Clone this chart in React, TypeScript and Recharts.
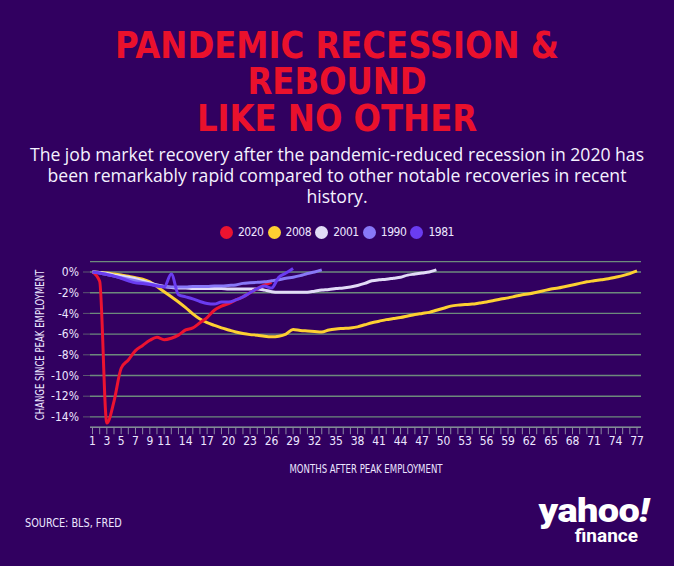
import { CartesianGrid, Line, LineChart, XAxis, YAxis } from "recharts";

// months after peak employment (x categories)
const months = [
  1, 2, 3, 4, 5, 6, 7, 8, 9, 10, 11, 12, 13, 14, 15, 16, 17, 18, 19, 20, 21, 22,
  23, 24, 25, 26, 27, 28, 29, 30, 31, 32, 33, 34, 35, 36, 37, 38, 39, 40, 41, 42,
  43, 44, 45, 46, 47, 48, 49, 50, 51, 52, 53, 54, 55, 56, 57, 58, 59, 60, 61, 62,
  63, 64, 65, 66, 67, 68, 69, 70, 71, 72, 73, 74, 75, 76, 77,
];
const xTickLabels = [
  1, 3, 5, 7, 9, 11, 14, 17, 20, 23, 26, 29, 32, 35, 38, 41, 44, 47, 50, 53, 56,
  59, 62, 65, 68, 71, 74, 77,
];
const yTicks = [0, -2, -4, -6, -8, -10, -12, -14];

// % change since peak employment
const y2020 = [
  0, -0.9, -14.6, -12.5, -9.3, -8.5, -7.6, -7.1, -6.6, -6.3, -6.55, -6.4, -6.1,
  -5.6, -5.4, -4.9, -4.4, -3.7, -3.3, -3.05, -2.7, -2.4, -2.0, -1.6, -1.25, -1.0,
];
const y2008 = [
  0, -0.05, -0.1, -0.2, -0.3, -0.4, -0.55, -0.7, -0.95, -1.4, -1.9, -2.4, -2.9,
  -3.45, -4.05, -4.55, -4.9, -5.15, -5.4, -5.6, -5.8, -5.95, -6.05, -6.1, -6.2,
  -6.25, -6.2, -6.0, -5.55, -5.65, -5.7, -5.75, -5.8, -5.6, -5.5, -5.45, -5.4,
  -5.3, -5.1, -4.9, -4.75, -4.6, -4.5, -4.4, -4.25, -4.1, -4.0, -3.9, -3.7, -3.5,
  -3.3, -3.2, -3.15, -3.1, -3.0, -2.9, -2.75, -2.6, -2.5, -2.35, -2.2, -2.1,
  -1.95, -1.8, -1.65, -1.55, -1.4, -1.25, -1.1, -0.95, -0.85, -0.75, -0.65, -0.5,
  -0.35, -0.15, 0.1,
];
const y2001 = [
  0, -0.05, -0.15, -0.3, -0.4, -0.5, -0.65, -0.85, -1.05, -1.25, -1.4, -1.5,
  -1.55, -1.55, -1.6, -1.6, -1.6, -1.6, -1.6, -1.65, -1.65, -1.65, -1.65, -1.65,
  -1.75, -1.9, -1.95, -1.95, -1.95, -1.95, -1.95, -1.85, -1.75, -1.7, -1.6,
  -1.55, -1.45, -1.3, -1.1, -0.85, -0.75, -0.7, -0.6, -0.5, -0.3, -0.2, -0.1, 0.0,
  0.2,
];
const y1990 = [
  0, -0.1, -0.25, -0.4, -0.55, -0.7, -0.85, -1.0, -1.15, -1.3, -1.4, -1.45,
  -1.45, -1.45, -1.4, -1.4, -1.4, -1.35, -1.35, -1.3, -1.25, -1.1, -1.05, -1.0,
  -0.95, -0.85, -0.75, -0.6, -0.5, -0.35, -0.15, 0.0, 0.2,
];
const y1981 = [
  0, -0.1, -0.25, -0.4, -0.6, -0.85, -1.05, -1.1, -1.2, -1.35, -1.45, -0.2,
  -2.2, -2.4, -2.6, -2.85, -3.05, -3.1, -2.9, -2.9, -2.7, -2.4, -2.0, -1.6,
  -1.35, -1.55, -0.5, -0.1, 0.35,
];

const legendItems = [
  { name: "2020", color: "#ec1330" },
  { name: "2008", color: "#fdd032" },
  { name: "2001", color: "#e2dcf7" },
  { name: "1990", color: "#8878f7" },
  { name: "1981", color: "#6a3cf0" },
];

const data = months.map((m, i) => ({
  month: m,
  s2020: y2020[i],
  s2008: y2008[i],
  s2001: y2001[i],
  s1990: y1990[i],
  s1981: y1981[i],
}));

const BG = "#310060";
const NARROW = '"DejaVu Sans Condensed", "DejaVu Sans", sans-serif';
const LIGHT = "#ece6ff";

// shared style for the small condensed captions
const caption = {
  position: "absolute" as const,
  whiteSpace: "nowrap" as const,
  fontFamily: NARROW,
  fontSize: 12.5,
  color: LIGHT,
  lineHeight: "14px",
};

export default function App() {
  return (
    <div
      style={{
        position: "absolute",
        left: 0,
        top: 0,
        width: 674,
        height: 566,
        background: BG,
        overflow: "hidden",
      }}
    >
      {/* title */}
      <div
        style={{
          position: "absolute",
          top: 26.5,
          left: 0,
          width: 674,
          textAlign: "center",
          color: "#ea112c",
          fontFamily: NARROW,
          fontWeight: 700,
          fontSize: 38,
          lineHeight: "36.5px",
          transform: "scaleX(0.945)",
        }}
      >
        PANDEMIC RECESSION &amp;
        <br />
        REBOUND
        <br />
        LIKE NO OTHER
      </div>

      {/* subtitle */}
      <div
        style={{
          position: "absolute",
          top: 144,
          left: 0,
          width: 674,
          textAlign: "center",
          color: "#f5f2ff",
          fontFamily: '"Open Sans", sans-serif',
          fontSize: 17.6,
          lineHeight: "21px",
        }}
      >
        The job market recovery after the pandemic-reduced recession in 2020 has
        <br />
        been remarkably rapid compared to other notable recoveries in recent
        <br />
        history.
      </div>

      {/* legend */}
      {legendItems.map((it, i) => (
        <div
          key={it.name}
          style={{
            position: "absolute",
            left: 220 + i * 47.6,
            top: 224,
            display: "flex",
            alignItems: "center",
            fontFamily: NARROW,
            fontSize: 12,
            letterSpacing: -0.5,
            color: LIGHT,
            lineHeight: "16px",
          }}
        >
          <span
            style={{
              width: 13,
              height: 13,
              borderRadius: "50%",
              background: it.color,
              marginRight: 5,
              display: "inline-block",
            }}
          />
          {it.name}
        </div>
      ))}

      <div style={{ position: "absolute", left: 0, top: 0 }}>
        <LineChart
          width={674}
          height={566}
          data={data}
          margin={{ top: 261.65, right: 33, bottom: 108.75, left: 0 }}
        >
          <CartesianGrid vertical={false} stroke="#6d8a7c" strokeWidth={1.4} />
          <XAxis
            dataKey="month"
            type="number"
            domain={[1, 77]}
            ticks={months}
            interval={0}
            padding={{ left: 2.5, right: 4 }}
            height={30}
            tickFormatter={(v: number) =>
              xTickLabels.includes(v) ? String(v) : ""
            }
            stroke="#8a88a0"
            tickSize={7}
            tick={{ fill: LIGHT, fontSize: 12, fontFamily: NARROW }}
          />
          <YAxis
            type="number"
            domain={[-15, 1]}
            ticks={yTicks}
            interval={0}
            width={90}
            axisLine={false}
            tickLine={{ stroke: "#5c5870" }}
            tickSize={7}
            tickMargin={4}
            tickFormatter={(v: number) => `${v}%`}
            tick={{ fill: LIGHT, fontSize: 12, fontFamily: NARROW }}
          />
          <Line
            dataKey="s2008"
            stroke="#fdd032"
            strokeWidth={3}
            type="monotone"
            dot={false}
            activeDot={false}
            isAnimationActive={false}
          />
          <Line
            dataKey="s2001"
            stroke="#e2dcf7"
            strokeWidth={3}
            type="monotone"
            dot={false}
            activeDot={false}
            isAnimationActive={false}
          />
          <Line
            dataKey="s2020"
            stroke="#ec1330"
            strokeWidth={3}
            type="monotone"
            dot={false}
            activeDot={false}
            isAnimationActive={false}
          />
          <Line
            dataKey="s1990"
            stroke="#8878f7"
            strokeWidth={3}
            type="monotone"
            dot={false}
            activeDot={false}
            isAnimationActive={false}
          />
          <Line
            dataKey="s1981"
            stroke="#6a3cf0"
            strokeWidth={3}
            type="monotone"
            dot={false}
            activeDot={false}
            isAnimationActive={false}
          />
        </LineChart>
      </div>

      {/* axis titles */}
      <div
        style={{
          ...caption,
          left: 40,
          top: 345,
          transform: "translate(-50%, -50%) rotate(-90deg) scaleX(0.76)",
        }}
      >
        CHANGE SINCE PEAK EMPLOYMENT
      </div>
      <div
        style={{
          ...caption,
          left: 365.5,
          top: 469,
          transform: "translate(-50%, -50%) scaleX(0.76)",
        }}
      >
        MONTHS AFTER PEAK EMPLOYMENT
      </div>

      {/* footer */}
      <div
        style={{
          ...caption,
          left: 25,
          top: 516,
          fontSize: 12,
          transformOrigin: "left center",
          transform: "scaleX(0.9)",
        }}
      >
        SOURCE: BLS, FRED
      </div>
      <div
        style={{
          position: "absolute",
          right: 25,
          top: 494,
          textAlign: "right",
          color: "#ffffff",
          fontFamily: "Roboto, sans-serif",
          fontWeight: 900,
        }}
      >
        <div
          style={{
            fontSize: 33,
            lineHeight: "34px",
            letterSpacing: -0.5,
            transformOrigin: "right center",
            transform: "scaleX(1.15)",
          }}
        >
          yahoo<span style={{ fontStyle: "italic" }}>!</span>
        </div>
        <div
          style={{
            fontSize: 19,
            lineHeight: "16px",
            fontWeight: 700,
            marginRight: 11,
          }}
        >
          finance
        </div>
      </div>
    </div>
  );
}
